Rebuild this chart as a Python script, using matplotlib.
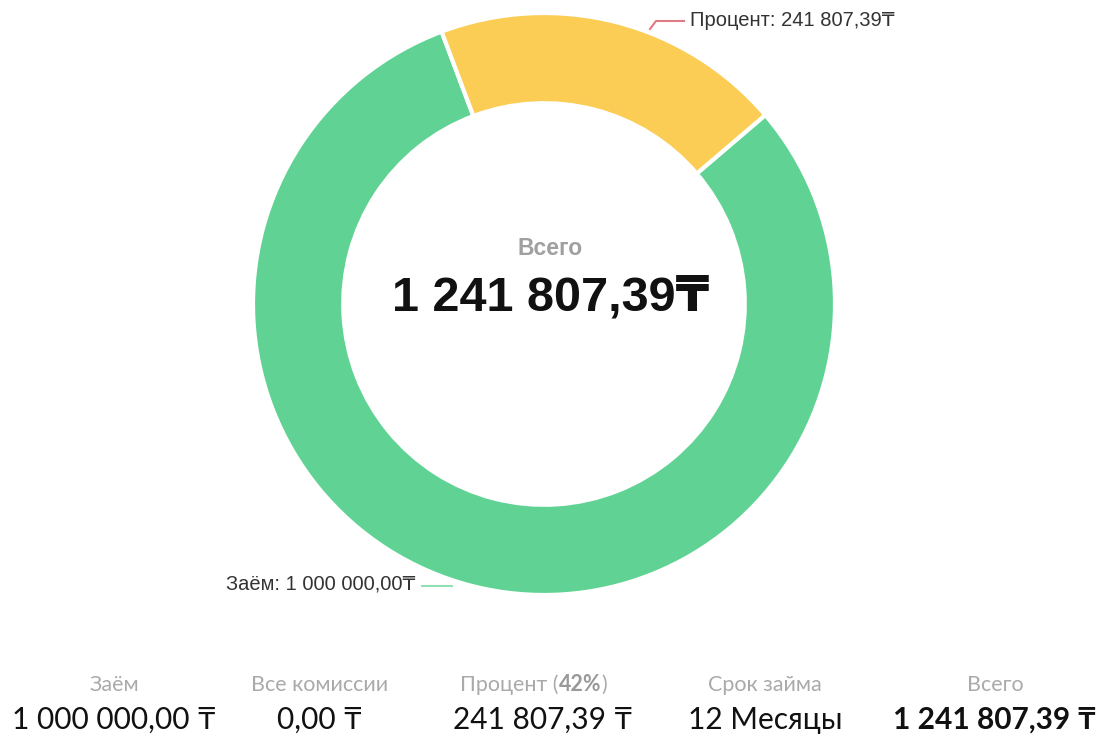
import matplotlib
matplotlib.use("Agg")
import matplotlib.pyplot as plt

# данные графика
labels = ["Заём", "Процент"]
values = [1000000.00, 241807.39]
colors = ["#60d394", "#fbcd55"]
line_colors = ["#8fe0b2", "#e07a84"]

total_title = "Всего"
total_text = "1 241 807,39₸"

summary_titles = ["Заём", "Все комиссии", "Процент", "Срок займа", "Всего"]
summary_values = ["1 000 000,00 ₸", "0,00 ₸", "241 807,39 ₸", "12 Месяцы", "1 241 807,39 ₸"]
percent_text = "42%"

W, H = 1120, 748
fig = plt.figure(figsize=(W / 100, H / 100), dpi=100)
ax = fig.add_axes([0, 0, 1, 1])
ax.set_xlim(0, W)
ax.set_ylim(0, H)
ax.axis("off")

arial = ["Liberation Sans", "DejaVu Sans"]
geo = ["Lato", "DejaVu Sans"]

# donut
cx, cy, R = 544, 304, 291
pax = fig.add_axes([(cx - R) / W, 1 - (cy + R) / H, 2 * R / W, 2 * R / H])
pax.pie(values, colors=colors, startangle=40.5, counterclock=False,
        radius=1, wedgeprops=dict(width=0.31, edgecolor="white", linewidth=3))
pax.set_xlim(-1, 1)
pax.set_ylim(-1, 1)
pax.set_aspect("auto")
pax.axis("off")

# подписи сегментов
fmt = lambda v: f"{v:,.2f}".replace(",", " ").replace(".", ",")
ax.plot([650, 656, 684], [H - 29, H - 21, H - 21], color=line_colors[1], lw=1.5)
ax.text(690, H - 20, f"{labels[1]}: {fmt(values[1])}₸", fontsize=14.5, color="#333333",
        family=arial, ha="left", va="center")
ax.plot([422, 452], [H - 586, H - 586], color=line_colors[0], lw=1.5)
ax.text(415, H - 584, f"{labels[0]}: {fmt(values[0])}₸", fontsize=14.5, color="#333333",
        family=arial, ha="right", va="center")

# центр
ax.text(550, H - 248, total_title, fontsize=16.5, color="#a0a0a0", fontweight="bold",
        family=arial, ha="center", va="center")
ax.text(551, H - 298, total_text, fontsize=35, color="#111111", fontweight="bold",
        family=arial, ha="center", va="center")

# нижняя строка
col_x = [114, 320, 543, 765, 995]
for i, (t, v) in enumerate(zip(summary_titles, summary_values)):
    if i == 2:
        t1 = ax.text(460, H - 685, t + " (", fontsize=15.5, color="#aaaaaa",
                     family=geo, ha="left", va="center")
        t2 = ax.annotate(percent_text, xy=(1, 0), xycoords=t1, fontsize=15.5,
                         color="#999999", fontweight="bold", family=geo,
                         ha="left", va="bottom")
        ax.annotate(")", xy=(1, 0), xycoords=t2, fontsize=15.5, color="#aaaaaa",
                    family=geo, ha="left", va="bottom")
    else:
        ax.text(col_x[i], H - 685, t, fontsize=15.5, color="#aaaaaa",
                family=geo, ha="center", va="center")
    ax.text(col_x[i], H - 720, v, fontsize=21.5, color="#111111",
            fontweight="bold" if i == 4 else "normal",
            family=geo, ha="center", va="center")

fig.savefig("out.png", dpi=100, facecolor="white")
